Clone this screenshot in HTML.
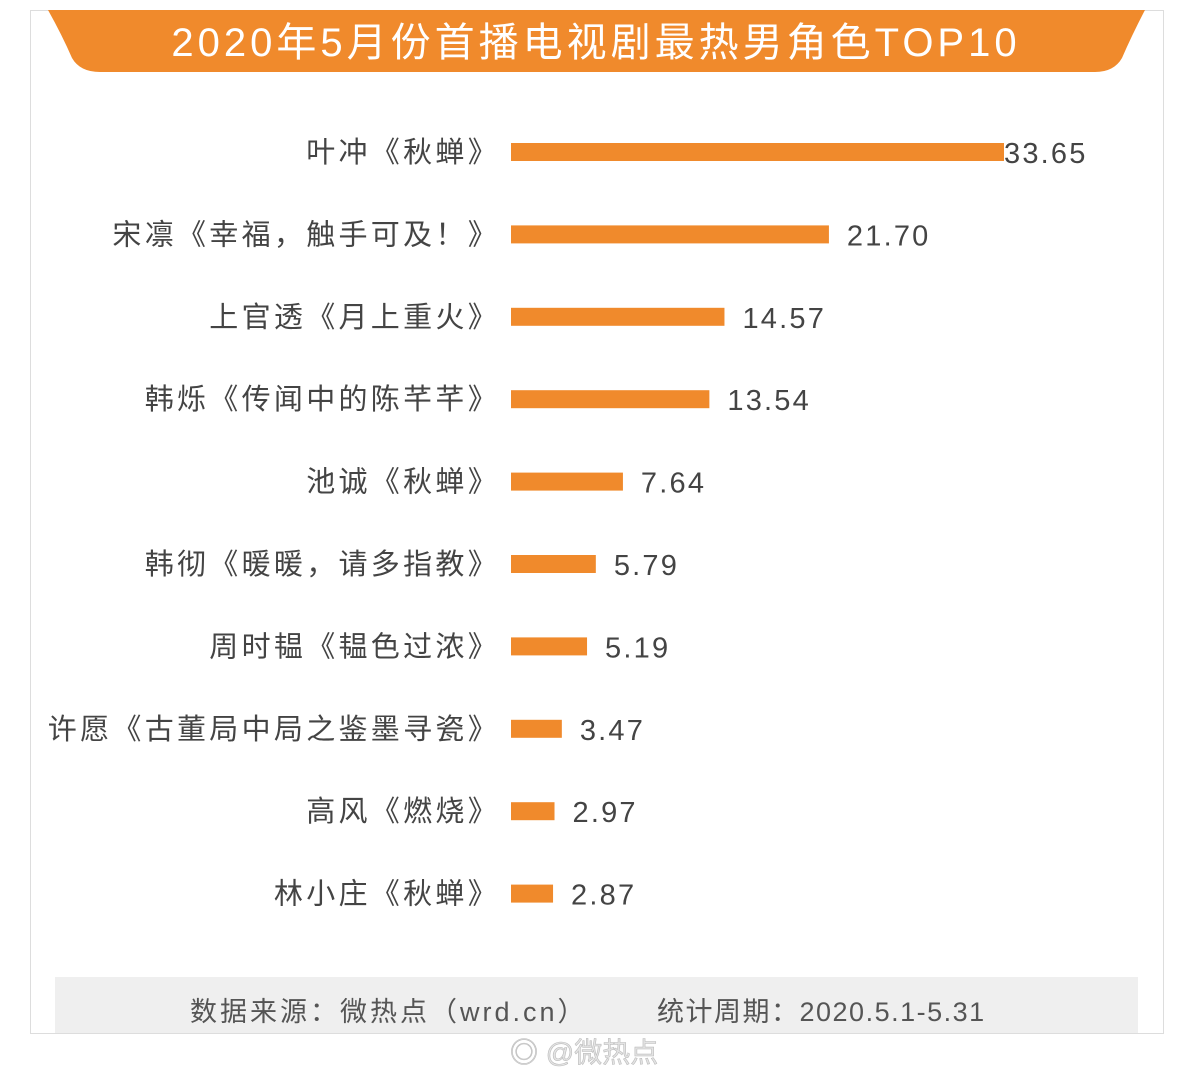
<!DOCTYPE html>
<html><head><meta charset="utf-8"><style>
body{margin:0;width:1193px;height:1080px;background:#fff;overflow:hidden;font-family:"Liberation Sans","Noto Sans CJK SC",sans-serif}
</style></head><body>
<svg width="1193" height="1080">
<rect x="30.5" y="10.5" width="1133" height="1023" fill="#fff" stroke="#ddd"/>
<path d="M48 10 H1145 Q1132 35 1122 58 Q1114 72 1095 72 H100 Q80 72 72 58 Q62 35 48 10 Z" fill="#f08a2c"/>
<text x="596" y="56" text-anchor="middle" font-size="40" fill="#fff" letter-spacing="4" font-family="Liberation Sans,Noto Sans CJK SC,sans-serif">2020年5月份首播电视剧最热男角色TOP10</text>
<g id="bars"></g>
<rect x="55" y="977" width="1083" height="56" fill="#efefef"/>
<text x="190" y="1021" font-size="27" fill="#555" letter-spacing="3">数据来源：微热点（wrd.cn）</text>
<text x="657" y="1021" font-size="27" fill="#555" letter-spacing="1.5">统计周期：2020.5.1-5.31</text>
<text x="510" y="1062" font-size="28" fill="#e4e4e4" stroke="#bbb" stroke-width="0.6">◎ @微热点</text>
</svg>
<script>
const categories=["叶冲《秋蝉》","宋凛《幸福，触手可及！》","上官透《月上重火》","韩烁《传闻中的陈芊芊》","池诚《秋蝉》","韩彻《暖暖，请多指教》","周时韫《韫色过浓》","许愿《古董局中局之鉴墨寻瓷》","高风《燃烧》","林小庄《秋蝉》"];
const values=[33.65,21.70,14.57,13.54,7.64,5.79,5.19,3.47,2.97,2.87];
const valueLabels=["33.65","21.70","14.57","13.54","7.64","5.79","5.19","3.47","2.97","2.87"];
const x0=511,scale=(1004-511)/33.65;
function xs(v){return x0+v*scale;}
function ys(i){return 152+i*82.4;}
const g=document.getElementById('bars'),NS="http://www.w3.org/2000/svg";
categories.forEach((c,i)=>{
  const r=document.createElementNS(NS,'rect');
  
  
  r.setAttribute('x',x0);r.setAttribute('y',ys(i)-9);r.setAttribute('width',xs(values[i])-x0);r.setAttribute('height',18);r.setAttribute('fill','#f08a2c');
  g.appendChild(r);
  const t=document.createElementNS(NS,'text');
  
  
  t.setAttribute('x',500);t.setAttribute('y',ys(i)+10);t.setAttribute('text-anchor','end');t.setAttribute('font-size','29');t.setAttribute('fill','#444');t.setAttribute('letter-spacing','3.3');
  t.textContent=c;g.appendChild(t);
  const v=document.createElementNS(NS,'text');
  
  
  v.setAttribute('x',xs(values[i])+(i==0?0:18));v.setAttribute('y',ys(i)+11);v.setAttribute('font-size','29');v.setAttribute('fill','#444');v.setAttribute('letter-spacing','2.2');
  v.textContent=valueLabels[i];g.appendChild(v);
});
</script>
</body></html>
